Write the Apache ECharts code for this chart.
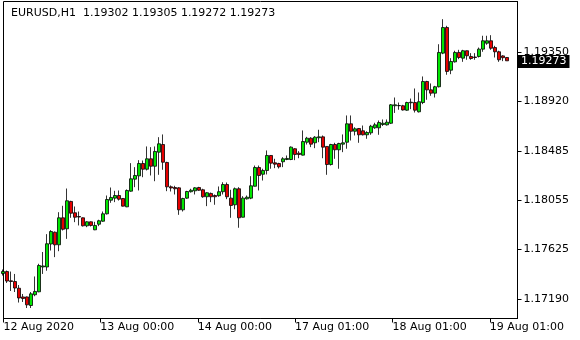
<!DOCTYPE html>
<html><head><meta charset="utf-8">
<script src="https://cdn.jsdelivr.net/npm/echarts@6/dist/echarts.min.js"></script>
<style>html,body{margin:0;padding:0;background:#fff}#c{width:580px;height:340px}</style>
</head><body><div id="c"></div>
<script>
const symbolName = 'EURUSD,H1';
const xTickPos = [0.125, 24.3, 48.7, 73.0, 97.4, 121.7];
const xTickLabels = ['12 Aug 2020', '13 Aug 00:00', '14 Aug 00:00', '17 Aug 01:00', '18 Aug 01:00', '19 Aug 01:00'];
const yTicks = [1.17190, 1.17625, 1.18055, 1.18485, 1.18920, 1.19350];

const open = [1.17413,1.17430,1.17349,1.17343,1.17284,1.17208,1.17208,1.17133,1.17227,1.17253,
1.17470,1.17470,1.17671,1.17774,1.17664,1.17900,1.17804,1.18043,1.17944,1.17911,
1.17900,1.17830,1.17865,1.17795,1.17844,1.17870,1.17935,1.18054,1.18072,1.18095,
1.18069,1.17996,1.18133,1.18238,1.18267,1.18375,1.18325,1.18416,1.18351,1.18474,
1.18541,1.18384,1.18171,1.18165,1.18162,1.17970,1.18072,1.18128,1.18136,1.18165,
1.18145,1.18084,1.18113,1.18095,1.18093,1.18128,1.18191,1.18072,1.18014,1.18154,
1.17905,1.18066,1.18072,1.18176,1.18340,1.18281,1.18314,1.18445,1.18381,1.18375,
1.18390,1.18410,1.18410,1.18504,1.18465,1.18448,1.18561,1.18596,1.18556,1.18600,
1.18608,1.18524,1.18366,1.18541,1.18495,1.18544,1.18561,1.18722,1.18657,1.18681,
1.18661,1.18626,1.18643,1.18687,1.18687,1.18716,1.18713,1.18727,1.18880,1.18882,
1.18880,1.18841,1.18906,1.18908,1.18827,1.18908,1.19092,1.19019,1.18990,1.19046,
1.19340,1.19564,1.19191,1.19264,1.19346,1.19296,1.19361,1.19311,1.19306,1.19311,
1.19375,1.19427,1.19448,1.19389,1.19352,1.19316,1.19302];
const high = [1.17448,1.17439,1.17430,1.17409,1.17312,1.17234,1.17212,1.17251,1.17387,1.17498,
1.17601,1.17757,1.17792,1.17780,1.17949,1.18005,1.18156,1.18049,1.17999,1.17955,
1.17903,1.17870,1.17868,1.17865,1.17883,1.17955,1.18095,1.18165,1.18136,1.18139,
1.18073,1.18148,1.18378,1.18343,1.18404,1.18401,1.18524,1.18518,1.18524,1.18605,
1.18629,1.18390,1.18183,1.18180,1.18168,1.18075,1.18136,1.18154,1.18168,1.18171,
1.18154,1.18124,1.18121,1.18104,1.18174,1.18211,1.18209,1.18145,1.18165,1.18168,
1.18089,1.18095,1.18264,1.18357,1.18357,1.18329,1.18489,1.18448,1.18416,1.18381,
1.18430,1.18445,1.18524,1.18509,1.18483,1.18664,1.18608,1.18605,1.18614,1.18670,
1.18620,1.18526,1.18547,1.18556,1.18556,1.18629,1.18795,1.18795,1.18692,1.18685,
1.18707,1.18657,1.18713,1.18731,1.18751,1.18760,1.18760,1.18895,1.18952,1.18908,
1.18888,1.18915,1.18943,1.19031,1.18996,1.19136,1.19098,1.19075,1.19054,1.19418,
1.19637,1.19579,1.19296,1.19361,1.19369,1.19369,1.19363,1.19340,1.19340,1.19389,
1.19492,1.19492,1.19497,1.19404,1.19361,1.19322,1.19305];
const low = [1.17395,1.17330,1.17260,1.17251,1.17159,1.17164,1.17111,1.17111,1.17214,1.17249,
1.17409,1.17437,1.17614,1.17556,1.17608,1.17789,1.17716,1.17900,1.17862,1.17833,
1.17824,1.17818,1.17824,1.17792,1.17827,1.17865,1.17929,1.18031,1.18037,1.18051,
1.17999,1.17993,1.18128,1.18168,1.18139,1.18255,1.18314,1.18270,1.18220,1.18276,
1.18320,1.18133,1.18130,1.18104,1.17926,1.17955,1.18066,1.18121,1.18104,1.18136,
1.18075,1.18002,1.18037,1.18014,1.18084,1.18104,1.18063,1.17900,1.17975,1.17813,
1.17903,1.18060,1.18063,1.18174,1.18139,1.18226,1.18279,1.18329,1.18334,1.18331,
1.18343,1.18404,1.18404,1.18404,1.18421,1.18445,1.18541,1.18518,1.18509,1.18561,
1.18421,1.18276,1.18357,1.18416,1.18329,1.18474,1.18504,1.18576,1.18620,1.18556,
1.18620,1.18591,1.18626,1.18678,1.18626,1.18703,1.18707,1.18720,1.18817,1.18845,
1.18838,1.18836,1.18850,1.18821,1.18821,1.18894,1.18932,1.18967,1.18952,1.19040,
1.19331,1.19151,1.19156,1.19258,1.19287,1.19264,1.19282,1.19282,1.19282,1.19302,
1.19352,1.19413,1.19369,1.19302,1.19264,1.19270,1.19272];
const close = [1.17430,1.17347,1.17343,1.17286,1.17199,1.17194,1.17139,1.17235,1.17256,1.17483,
1.17479,1.17673,1.17780,1.17664,1.17900,1.17800,1.18049,1.17940,1.17905,1.17907,
1.17830,1.17865,1.17833,1.17833,1.17874,1.17935,1.18060,1.18078,1.18095,1.18063,
1.18002,1.18139,1.18241,1.18270,1.18375,1.18325,1.18416,1.18351,1.18480,1.18547,
1.18386,1.18171,1.18161,1.18154,1.17970,1.18069,1.18130,1.18141,1.18162,1.18141,
1.18084,1.18119,1.18084,1.18084,1.18128,1.18191,1.18084,1.18008,1.18154,1.17900,
1.18072,1.18080,1.18180,1.18340,1.18270,1.18314,1.18445,1.18378,1.18369,1.18346,
1.18416,1.18419,1.18518,1.18454,1.18454,1.18567,1.18596,1.18544,1.18605,1.18608,
1.18518,1.18366,1.18541,1.18495,1.18550,1.18556,1.18722,1.18657,1.18678,1.18626,
1.18626,1.18646,1.18701,1.18713,1.18733,1.18727,1.18736,1.18888,1.18888,1.18880,
1.18843,1.18908,1.18911,1.18841,1.18915,1.19092,1.19019,1.18990,1.19046,1.19346,
1.19564,1.19180,1.19267,1.19346,1.19302,1.19361,1.19317,1.19293,1.19302,1.19375,
1.19448,1.19448,1.19383,1.19352,1.19282,1.19300,1.19273];

const last = open.length - 1;
const candleData = open.map((o, i) => [i, o, close[i], low[i], high[i]]);
const FONT = 'DejaVu Sans';

const chart = echarts.init(document.getElementById('c'), null, {renderer: 'canvas'});
chart.setOption({
  animation: false,
  backgroundColor: '#ffffff',
  title: {
    text: symbolName + '  ' + [open[last], high[last], low[last], close[last]].map(v => v.toFixed(5)).join(' '),
    left: 6, top: 3,
    textStyle: {fontFamily: FONT, fontSize: 11, fontWeight: 'normal', color: '#000'}
  },
  grid: {
    left: 3.5, right: 62.5, top: 1.5, bottom: 21.5,
    show: true, borderColor: '#000', borderWidth: 1, backgroundColor: 'transparent'
  },
  xAxis: {
    type: 'value', min: 0.125, max: 128.625,
    axisLine: {show: true, lineStyle: {color: '#000', width: 1}},
    splitLine: {show: false},
    axisTick: {show: true, customValues: xTickPos, length: 4, lineStyle: {color: '#000'}},
    axisLabel: {
      customValues: xTickPos, align: 'left', margin: 3,
      fontFamily: FONT, fontSize: 11, color: '#000',
      formatter: v => { const k = xTickPos.findIndex(p => Math.abs(p - v) < 1e-6); return k >= 0 ? xTickLabels[k] : ''; }
    }
  },
  yAxis: {
    type: 'value', position: 'right',
    min: 1.170194, max: 1.197916,
    axisLine: {show: true, lineStyle: {color: '#000', width: 1}},
    splitLine: {show: false},
    axisTick: {show: true, customValues: yTicks, length: 4, lineStyle: {color: '#000'}},
    axisLabel: {
      customValues: yTicks, margin: 6, fontFamily: FONT, fontSize: 11, color: '#000',
      formatter: v => v.toFixed(5)
    }
  },
  series: [{
    type: 'candlestick',
    data: candleData,
    encode: {x: 0, y: [1, 2, 3, 4]},
    barWidth: 2.8,
    clip: false,
    itemStyle: {
      color: '#00e600', color0: '#e60000',
      borderColor: '#000', borderColor0: '#000', borderColorDoji: '#000', borderWidth: 0.8
    }
  }]
});

// current price tag on the price scale, positioned through the y axis scale
const yPix = chart.convertToPixel({yAxisIndex: 0}, close[last]);
chart.setOption({
  graphic: [{
    type: 'text', x: 518, y: Math.round(yPix) + 0.5, z: 100,
    style: {
      text: close[last].toFixed(5), fill: '#fff', backgroundColor: '#000',
      padding: [1, 3, 1, 3], font: '11px "DejaVu Sans"', verticalAlign: 'middle', align: 'left'
    }
  }]
});
</script></body></html>
